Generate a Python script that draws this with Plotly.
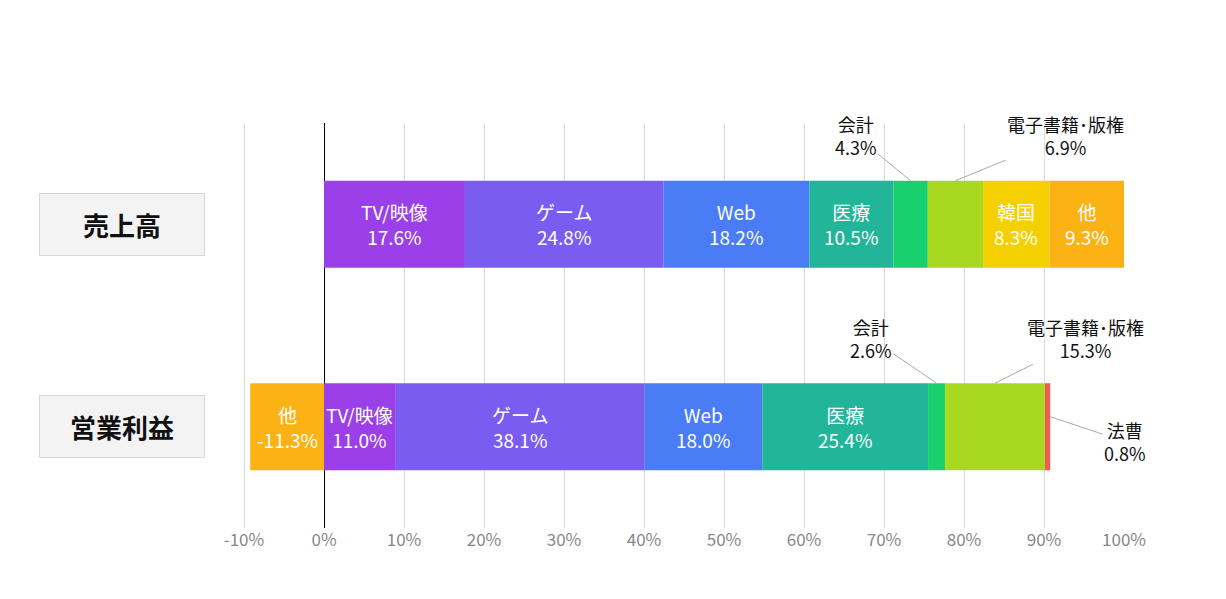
import plotly.graph_objects as go

segments = ["TV/映像", "ゲーム", "Web", "医療", "会計", "電子書籍･版権", "韓国", "法曹", "他"]
colors = ["#9B3FE8", "#7B5CF0", "#4A7CF5", "#22B59A", "#19D06F", "#A8D820", "#F5D000", "#F55A5A", "#FBB214"]
sales = [17.6, 24.8, 18.2, 10.5, 4.3, 6.9, 8.3, None, 9.3]
profit = [11.0, 38.1, 18.0, 25.4, 2.6, 15.3, None, 0.8, -11.3]
rows = ["営業利益", "売上高"]
inside = {"TV/映像", "ゲーム", "Web", "医療", "韓国", "他"}

tot_s = sum(abs(v) for v in sales if v is not None)
tot_p = sum(abs(v) for v in profit if v is not None)

fig = go.Figure()

def cum(vals, tot, idx):
    if vals[idx] < 0:
        return vals[idx] / 2 / tot * 100
    s = sum(v for v in vals[:idx] if v is not None and v > 0)
    return (s + vals[idx] / 2) / tot * 100

for i, name in enumerate(segments):
    xs, ys = [], []
    for vals, tot, r in ((sales, tot_s, 1), (profit, tot_p, 0)):
        v = vals[i]
        if v is None:
            continue
        xs.append(v / tot * 100)
        ys.append(r)
        if name in inside:
            lab = f"-{abs(v):.1f}%" if v < 0 else f"{v:.1f}%"
            fig.add_annotation(x=cum(vals, tot, i), y=r, text=f"{name}<br>{lab}", showarrow=False,
                               font=dict(color="white", size=19))
    fig.add_trace(go.Bar(x=xs, y=ys, orientation="h", width=0.43, marker=dict(color=colors[i], line_width=0),
                         name=name, hoverinfo="skip"))

def ann(x, y, text, ax, ay):
    fig.add_annotation(x=x, y=y, xref="x", yref="y", text=text, showarrow=True, arrowhead=0,
                       arrowcolor="#aaaaaa", arrowwidth=1, ax=ax, ay=ay, font=dict(size=18, color="#111"))

ann(cum(sales, tot_s, 4), 1.215, "会計<br>4.3%", -55, -45)
ann(cum(sales, tot_s, 5), 1.215, "電子書籍･版権<br>6.9%", 110, -45)
ann(cum(profit, tot_p, 4), 0.215, "会計<br>2.6%", -66, -45)
ann(cum(profit, tot_p, 5), 0.215, "電子書籍･版権<br>15.3%", 90, -45)
ann(cum(profit, tot_p, 7) + 0.3, 0.05, "法曹<br>0.8%", 75, 25)

for r, lab in ((1, "売上高"), (0, "営業利益")):
    fig.add_annotation(x=-0.044, xref="paper", xanchor="center", y=r, yref="y", text=f"<b>{lab}</b>",
                       showarrow=False, font=dict(size=26, color="#111"), bgcolor="#f3f3f3",
                       bordercolor="#d8d8d8", borderwidth=1, borderpad=12, width=140)

fig.update_layout(
    width=1226, height=599, barmode="relative", showlegend=False,
    plot_bgcolor="white", paper_bgcolor="white",
    margin=dict(l=156, r=110, t=115, b=79),
    font=dict(family="Noto Sans CJK JP, sans-serif"),
    xaxis=dict(range=[-20, 100], tickvals=list(range(-10, 101, 10)),
               ticktext=[f"{v}%" for v in range(-10, 101, 10)], showgrid=True, gridcolor="#dddddd",
               zeroline=True, zerolinecolor="#000", zerolinewidth=1,
               tickfont=dict(size=17, color="#888"), fixedrange=True),
    yaxis=dict(range=[-0.5, 1.5], showticklabels=False, showgrid=False, zeroline=False),
)
fig.write_html("out.html")
